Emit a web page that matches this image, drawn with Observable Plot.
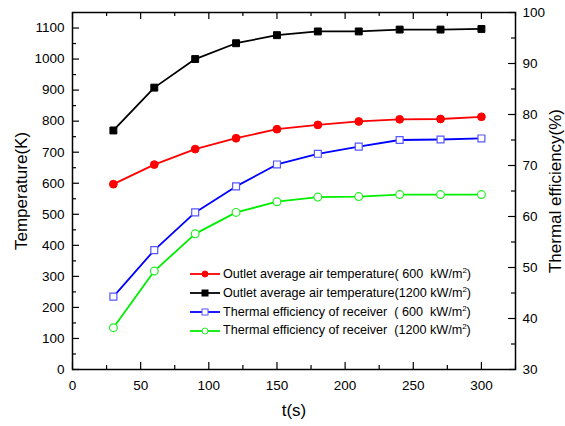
<!DOCTYPE html>
<html>
<head>
<meta charset="utf-8">
<script src="https://cdn.jsdelivr.net/npm/d3@7"></script>
<script src="https://cdn.jsdelivr.net/npm/@observablehq/plot@0.6"></script>
<style>
  html, body { margin: 0; padding: 0; background: #fff; }
  #wrap { position: relative; width: 565px; height: 426px; font-family: Arial, "Liberation Sans", sans-serif; color: #000; }
  #legend { position: absolute; left: 189px; top: 265px; font-size: 12.6px; line-height: 18.8px; }
  #legend .row { display: flex; align-items: center; height: 18.8px; white-space: pre; }
  #legend svg { margin-right: 2px; }
  #legend sup { font-size: 8px; vertical-align: 5px; line-height: 0; }
</style>
</head>
<body>
<div id="wrap"></div>
<script>
// ---- data ----
const t = [30, 60, 90, 120, 150, 180, 210, 240, 270, 300];
const tempOutlet600 = [597, 660, 710, 745, 774, 788, 799, 806, 807, 814];
const tempOutlet1200 = [770, 908, 1000, 1051, 1077, 1089, 1089, 1095, 1095, 1097];
const effReceiver600 = [44.3, 53.4, 60.8, 65.9, 70.2, 72.3, 73.7, 75.0, 75.1, 75.3];
const effReceiver1200 = [38.2, 49.3, 56.6, 60.8, 62.9, 63.8, 63.9, 64.3, 64.3, 64.3];

const xTicks = [0, 50, 100, 150, 200, 250, 300];
const xMinor = [25, 75, 125, 175, 225, 275, 325];
const tempTicks = [0, 100, 200, 300, 400, 500, 600, 700, 800, 900, 1000, 1100];
const tempMinor = [50, 150, 250, 350, 450, 550, 650, 750, 850, 950, 1050];
const effTicks = [30, 40, 50, 60, 70, 80, 90, 100];
const effMinor = [35, 45, 55, 65, 75, 85, 95];

const seriesNames = [
  "Outlet average air temperature( 600  kW/m2)",
  "Outlet average air temperature(1200 kW/m2)",
  "Thermal efficiency of receiver  ( 600  kW/m2)",
  "Thermal efficiency of receiver  (1200 kW/m2)"
];
const seriesColors = ["#ff0000", "#000000", "#0000ff", "#00ee00"];
const markerStroke = ["#ff0000", "#000000", "#5555ff", "#22ee22"];
const seriesSymbols = ["circle", "square", "square", "circle"];
const seriesFilled = [true, true, false, false];
const seriesValues = [tempOutlet600, tempOutlet1200, effReceiver600, effReceiver1200];
const seriesAxis = ["temp", "temp", "eff", "eff"];

// ---- scales ----
const W = 565, H = 426;
const mL = 72, mR = 50, mT = 12, mB = 57;
const innerW = W - mL - mR, innerH = H - mT - mB;
const tempMax = 1150, effMin = 30, effMax = 100;
const toY = e => (e - effMin) / (effMax - effMin) * tempMax;
const fromY = y => y / tempMax * (effMax - effMin) + effMin;

const marks = [];
seriesValues.forEach((vals, i) => {
  const rows = t.map((x, j) => ({x, y: seriesAxis[i] === "temp" ? vals[j] : toY(vals[j])}));
  marks.push(Plot.line(rows, {x: "x", y: "y", stroke: seriesColors[i], strokeWidth: 1.8}));
  marks.push(Plot.dot(rows, {
    x: "x", y: "y", symbol: seriesSymbols[i], r: 3.9,
    fill: seriesFilled[i] ? seriesColors[i] : "white",
    stroke: markerStroke[i], strokeWidth: seriesFilled[i] ? 1 : 1.2
  }));
});

const chart = Plot.plot({
  width: W, height: H,
  marginLeft: mL, marginRight: mR, marginTop: mT, marginBottom: mB,
  style: {fontFamily: "Arial, 'Liberation Sans', sans-serif", fontSize: "13.5px", color: "#000", background: "white"},
  x: {domain: [0, 325]},
  y: {domain: [0, tempMax]},
  marks: [
    // inward ticks
    Plot.tickX(xTicks, {x: d => d, insetTop: innerH - 7, strokeWidth: 1.2}),
    Plot.tickX(xMinor, {x: d => d, insetTop: innerH - 4, strokeWidth: 1.2}),
    Plot.tickX(xTicks, {x: d => d, insetBottom: innerH - 7, strokeWidth: 1.2}),
    Plot.tickX(xMinor, {x: d => d, insetBottom: innerH - 4, strokeWidth: 1.2}),
    Plot.tickY(tempTicks, {y: d => d, insetRight: innerW - 7, strokeWidth: 1.2}),
    Plot.tickY(tempMinor, {y: d => d, insetRight: innerW - 4, strokeWidth: 1.2}),
    Plot.tickY(effTicks, {y: toY, insetLeft: innerW - 7, strokeWidth: 1.2}),
    Plot.tickY(effMinor, {y: toY, insetLeft: innerW - 4, strokeWidth: 1.2}),
    Plot.axisX({ticks: xTicks, tickFormat: d => String(d), tickSize: 0, tickPadding: 11, label: null}),
    Plot.axisY({anchor: "left", ticks: tempTicks, tickFormat: d => String(d), tickSize: 0, tickPadding: 8, label: null}),
    Plot.axisY({anchor: "right", ticks: effTicks.map(toY), tickFormat: d => String(Math.round(fromY(d))), tickSize: 0, tickPadding: 7, label: null}),
    Plot.text(["Temperature(K)"], {frameAnchor: "left", dx: -51, rotate: -90, textAnchor: "middle", fontSize: 17}),
    Plot.text(["Thermal efficiency(%)"], {frameAnchor: "right", dx: 40, rotate: -90, textAnchor: "middle", fontSize: 17}),
    Plot.text(["t(s)"], {frameAnchor: "bottom", dy: 46, textAnchor: "middle", fontSize: 17}),
    ...marks,
    Plot.frame({stroke: "black", strokeWidth: 1.5})
  ]
});

const wrap = document.getElementById("wrap");
wrap.appendChild(chart);

// legend
const legend = document.createElement("div");
legend.id = "legend";
seriesNames.forEach((name, i) => {
  const row = document.createElement("div");
  row.className = "row";
  const s = d3.create("svg").attr("width", 32).attr("height", 12);
  s.append("line").attr("x1", 1).attr("x2", 31).attr("y1", 6).attr("y2", 6)
    .attr("stroke", seriesColors[i]).attr("stroke-width", 1.8);
  const fill = seriesFilled[i] ? seriesColors[i] : "white";
  if (seriesSymbols[i] === "circle") {
    s.append("circle").attr("cx", 16).attr("cy", 6).attr("r", 3)
      .attr("fill", fill).attr("stroke", markerStroke[i]);
  } else {
    s.append("rect").attr("x", 13).attr("y", 3).attr("width", 6).attr("height", 6)
      .attr("fill", fill).attr("stroke", markerStroke[i]);
  }
  row.appendChild(s.node());
  const span = document.createElement("span");
  const base = name.slice(0, name.lastIndexOf("2"));
  span.innerHTML = base + "<sup>2</sup>)";
  row.appendChild(span);
  legend.appendChild(row);
});
wrap.appendChild(legend);
</script>
</body>
</html>
